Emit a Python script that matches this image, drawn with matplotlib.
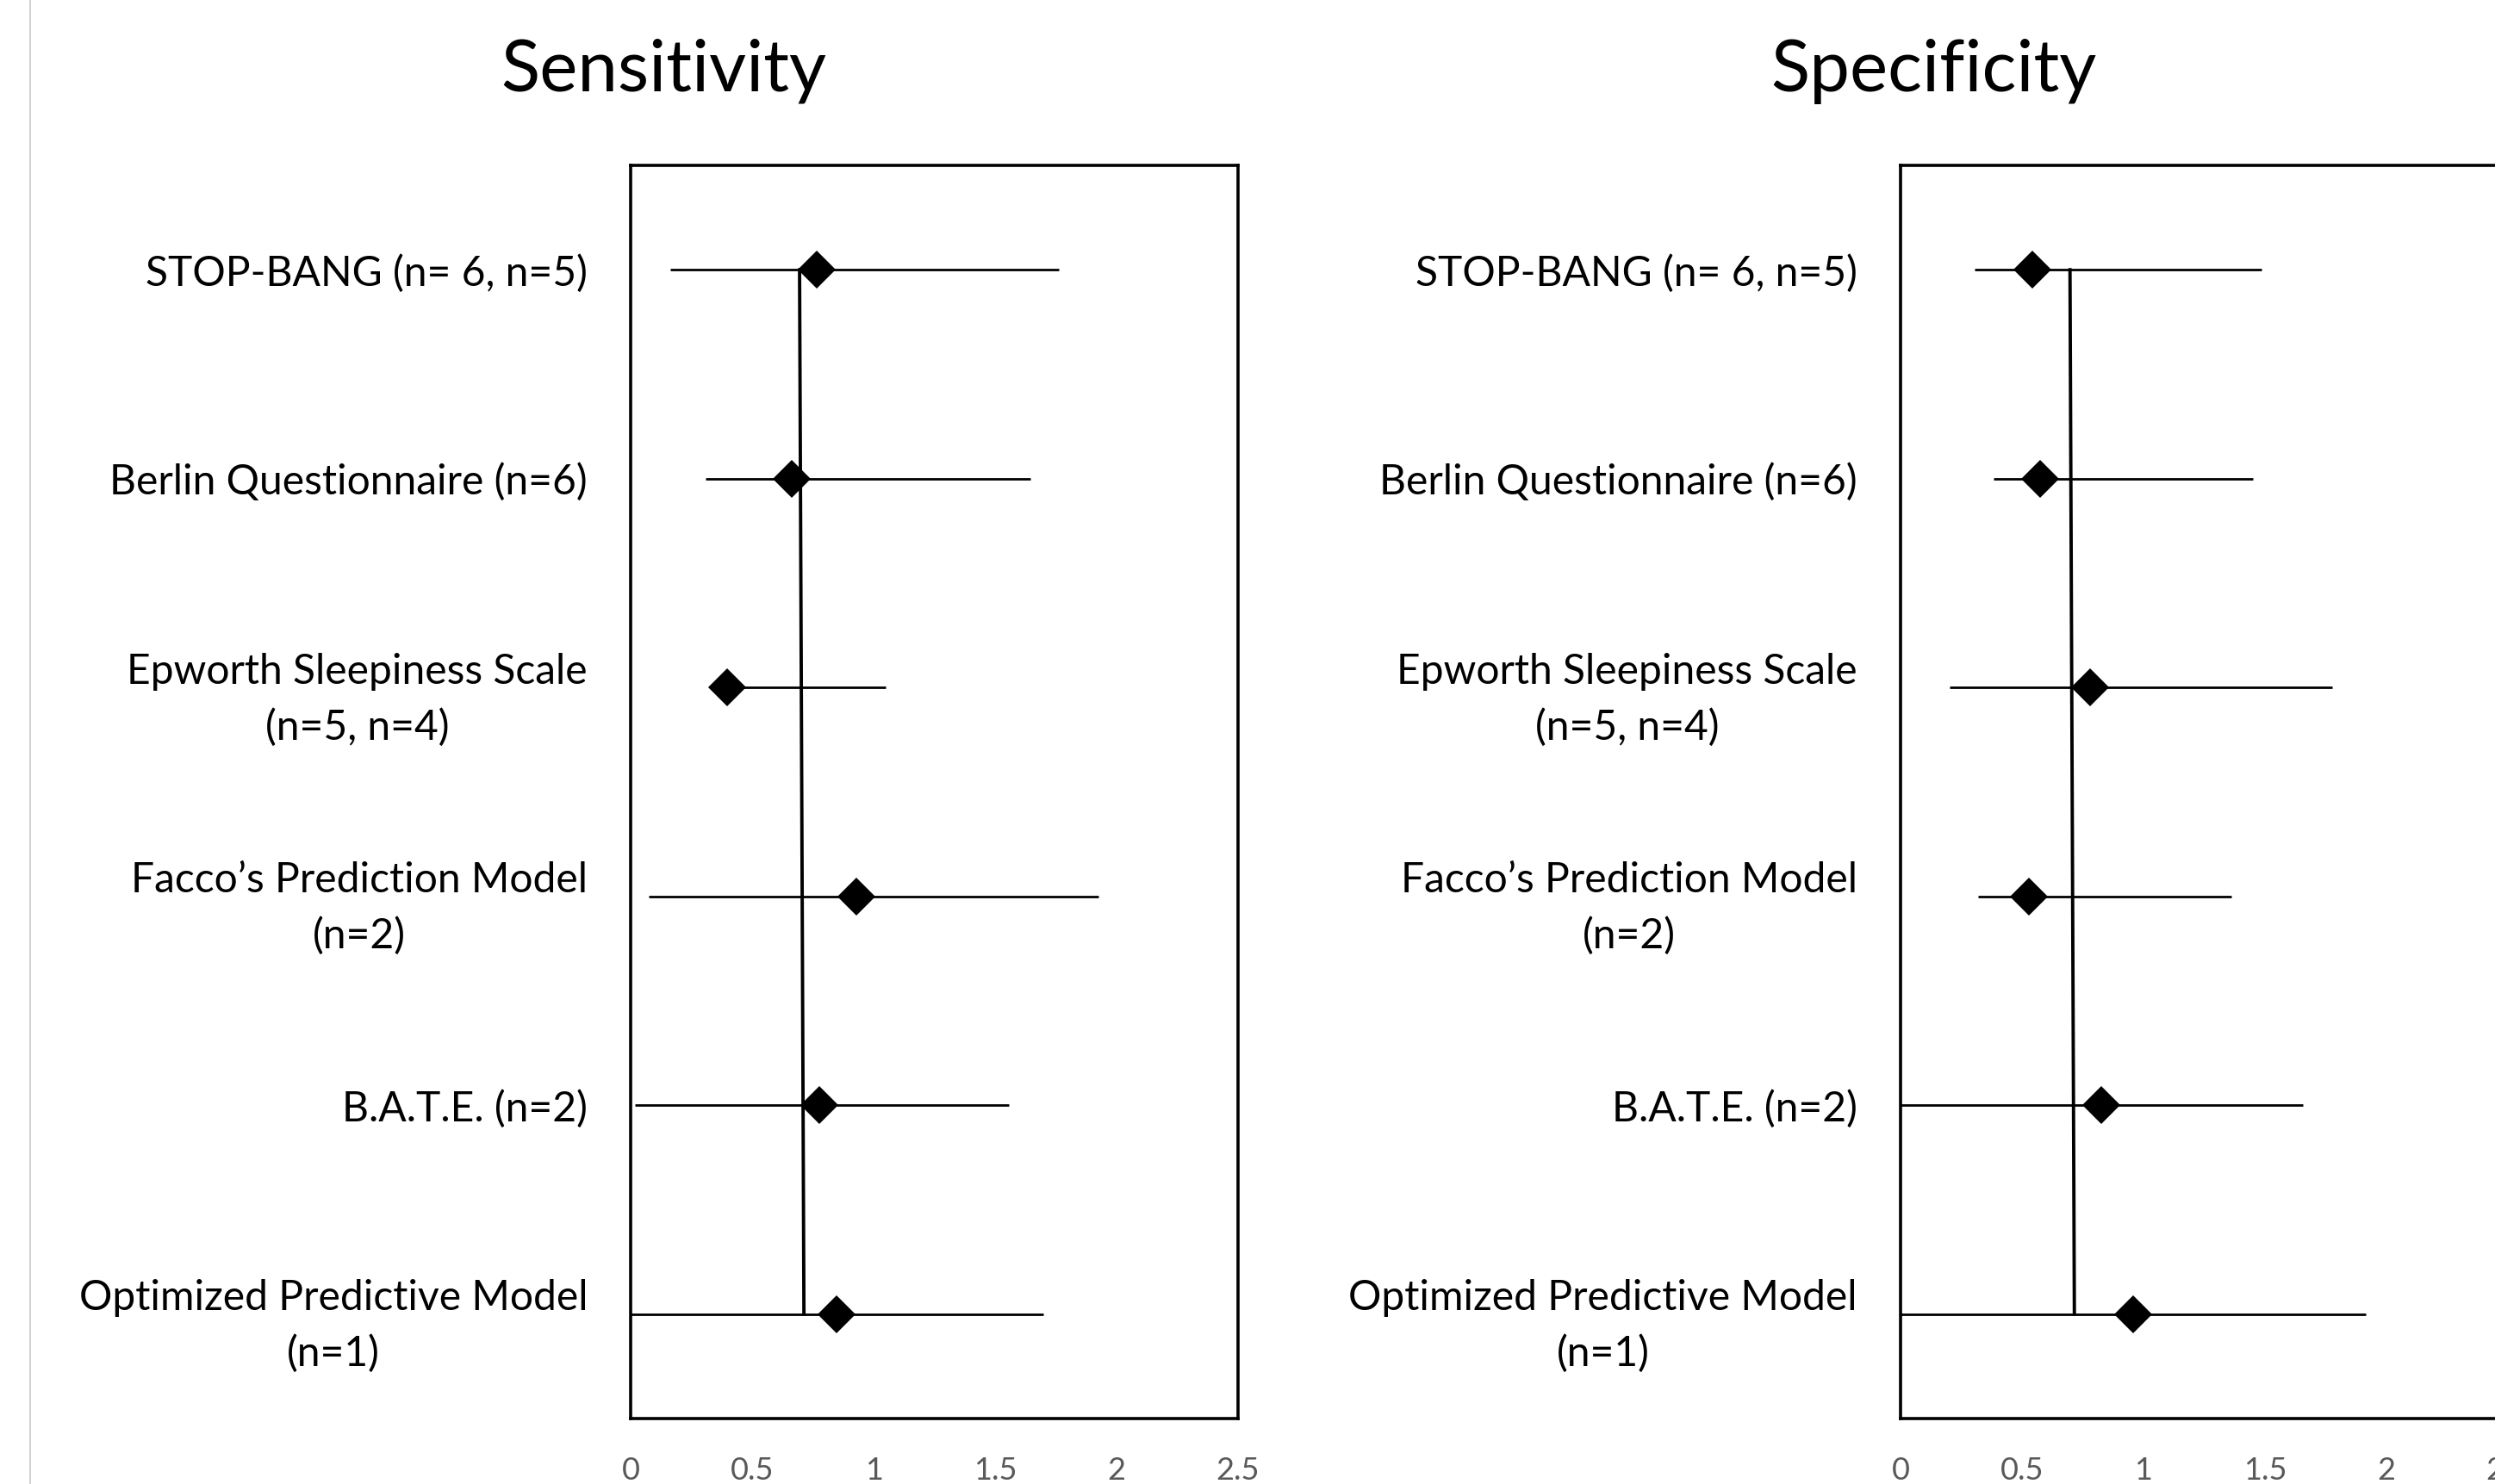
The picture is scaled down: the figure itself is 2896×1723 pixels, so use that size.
import matplotlib
matplotlib.use("Agg")
import matplotlib.pyplot as plt
from matplotlib.lines import Line2D

# datos
etiquetas = ["STOP-BANG (n= 6, n=5)",
             "Berlin Questionnaire (n=6)",
             "Epworth Sleepiness Scale\n(n=5, n=4)",
             "Facco\u2019s Prediction Model\n(n=2)",
             "B.A.T.E. (n=2)",
             "Optimized Predictive Model\n(n=1)"]
filas = [1, 2, 3, 4, 5, 6]

sens_punto = [0.767, 0.662, 0.396, 0.929, 0.776, 0.849]
sens_bajo = [0.164, 0.309, 0.36, 0.075, 0.018, 0.0]
sens_alto = [1.762, 1.647, 1.049, 1.925, 1.558, 1.698]
sens_global = [0.695, 0.713]

espe_punto = [0.543, 0.576, 0.780, 0.528, 0.826, 0.959]
espe_bajo = [0.307, 0.383, 0.203, 0.319, 0.0, 0.0]
espe_alto = [1.486, 1.451, 1.779, 1.363, 1.656, 1.915]
espe_global = [0.698, 0.716]

ticks_x = [0, 0.5, 1, 1.5, 2, 2.5]
etiquetas_x = ["0", "0.5", "1", "1.5", "2", "2.5"]

fuente = ["Lato", "DejaVu Sans"]
plt.rcParams["font.family"] = fuente

fig = plt.figure(figsize=(14.48, 8.615), dpi=200)


def panel(x0, punto, bajo, alto, globales, titulo, xt):
    ax = fig.add_axes([x0, 0.0441, 0.2434, 0.8445])
    ax.hlines(filas, bajo, alto, color="black", lw=1.0, zorder=2)
    ax.plot(globales, [filas[0], filas[-1]], color="black", lw=1.4, zorder=3)
    ax.plot(punto, filas, "D", color="black", ms=11, mew=0, zorder=4)
    ax.set_xlim(0, 2.5)
    ax.set_ylim(6.5, 0.5)
    ax.set_xticks(ticks_x)
    ax.set_xticklabels(etiquetas_x, color="#595959", fontsize=13)
    ax.set_yticks(filas)
    ax.set_yticklabels(etiquetas, fontsize=17.3, ha="right",
                       multialignment="center", linespacing=1.55)
    ax.tick_params(axis="x", length=0, pad=16)
    ax.tick_params(axis="y", length=0, pad=18)
    for s in ax.spines.values():
        s.set_linewidth(1.3)
        s.set_color("black")
    fig.text(xt, 0.952, titulo, ha="center", va="center", fontsize=30)
    return ax


panel(0.2528, sens_punto, sens_bajo, sens_alto, sens_global, "Sensitivity", 0.266)
panel(0.7617, espe_punto, espe_bajo, espe_alto, espe_global, "Specificity", 0.775)

# linea gris del borde izquierdo
fig.add_artist(Line2D([0.0121, 0.0121], [0, 1], color="#c8c8c8", lw=0.6))

fig.savefig("out.png", dpi=200)
